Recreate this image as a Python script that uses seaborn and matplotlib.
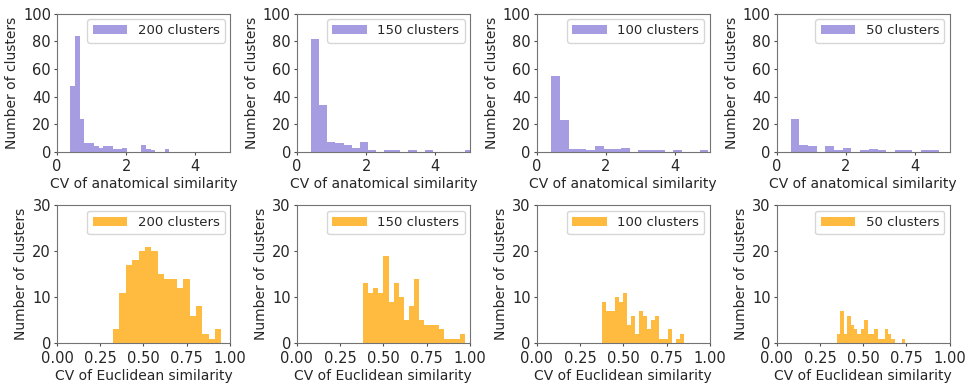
import numpy as np
import pandas as pd
import matplotlib.pyplot as plt
import seaborn as sns

cluster_sizes = [200, 150, 100, 50]

# CV of anatomical similarity: (first bin edge, last bin edge) and bin counts
anat_ranges = [(0.385, 3.25), (0.41, 5.10), (0.415, 4.96), (0.40, 4.68)]
anat_counts = [
    [48, 84, 24, 6, 6, 4, 3, 4, 4, 2, 2, 3, 0, 0, 0, 5, 2, 1, 0, 0, 2],
    [82, 34, 7, 6, 5, 3, 7, 1, 0, 1, 1, 0, 1, 0, 1, 0, 0, 0, 0, 1],
    [55, 23, 2, 2, 1, 4, 2, 2, 3, 0, 1, 1, 1, 0, 1, 0, 0, 1],
    [24, 5, 4, 0, 4, 1, 3, 0, 1, 2, 1, 0, 1, 1, 0, 1, 1],
]

# CV of Euclidean similarity
eucl_ranges = [(0.324, 0.951), (0.383, 0.971), (0.379, 0.851), (0.349, 0.742)]
eucl_counts = [
    [3, 11, 17, 18, 20, 21, 20, 15, 14, 14, 12, 14, 6, 8, 2, 1, 3],
    [13, 11, 12, 11, 19, 9, 13, 10, 5, 8, 14, 5, 4, 4, 4, 3, 1, 1, 1, 2],
    [9, 7, 7, 10, 9, 11, 4, 6, 2, 7, 6, 3, 5, 6, 1, 1, 3, 0, 1, 2],
    [2, 7, 2, 6, 4, 3, 2, 3, 5, 2, 2, 3, 1, 1, 3, 2, 1, 0, 0, 1],
]

anat_color = "slateblue"
eucl_color = "orange"


def draw_hist(ax, rng, counts, color, alpha, label):
    edges = np.linspace(rng[0], rng[1], len(counts) + 1)
    df = pd.DataFrame({"cv": (edges[:-1] + edges[1:]) / 2, "n": counts})
    sns.histplot(data=df, x="cv", weights="n", bins=list(edges), ax=ax,
                 color=color, alpha=alpha, linewidth=0, label=label)
    ax.legend(loc="upper right", fontsize=9.5, handlelength=2.6,
              borderaxespad=0.4)
    ax.set_ylabel("Number of clusters", fontsize=10, labelpad=3)
    ax.tick_params(labelsize=10.5, length=2.5, pad=1.8, width=0.8, color="0.3")
    ax.tick_params(axis="x", pad=3)
    for sp in ax.spines.values():
        sp.set_color("0.45")
        sp.set_linewidth(0.8)


sns.set_style("ticks")
plt.rcParams["font.family"] = ["DejaVu Sans"]

fig, axes = plt.subplots(2, 4, figsize=(9.71, 3.86), dpi=100)
fig.subplots_adjust(left=0.0587, right=0.978, top=0.964, bottom=0.111,
                    wspace=0.387, hspace=0.39)

for i, n in enumerate(cluster_sizes):
    ax = axes[0, i]
    draw_hist(ax, anat_ranges[i], anat_counts[i], anat_color, 0.6, f"{n} clusters")
    ax.set_xlim(0, 5)
    ax.set_ylim(0, 100)
    ax.set_xticks([0, 2, 4])
    ax.set_yticks([0, 20, 40, 60, 80, 100])
    ax.set_xlabel("CV of anatomical similarity", fontsize=10, labelpad=2)

    ax = axes[1, i]
    draw_hist(ax, eucl_ranges[i], eucl_counts[i], eucl_color, 0.75, f"{n} clusters")
    ax.set_xlim(0, 1)
    ax.set_ylim(0, 30)
    ax.set_xticks([0, 0.25, 0.5, 0.75, 1.0])
    ax.set_xticklabels(["0.00", "0.25", "0.50", "0.75", "1.00"])
    ax.set_yticks([0, 10, 20, 30])
    ax.set_xlabel("CV of Euclidean similarity", fontsize=10, labelpad=2)

fig.savefig("out.png", dpi=100)
plt.close(fig)
